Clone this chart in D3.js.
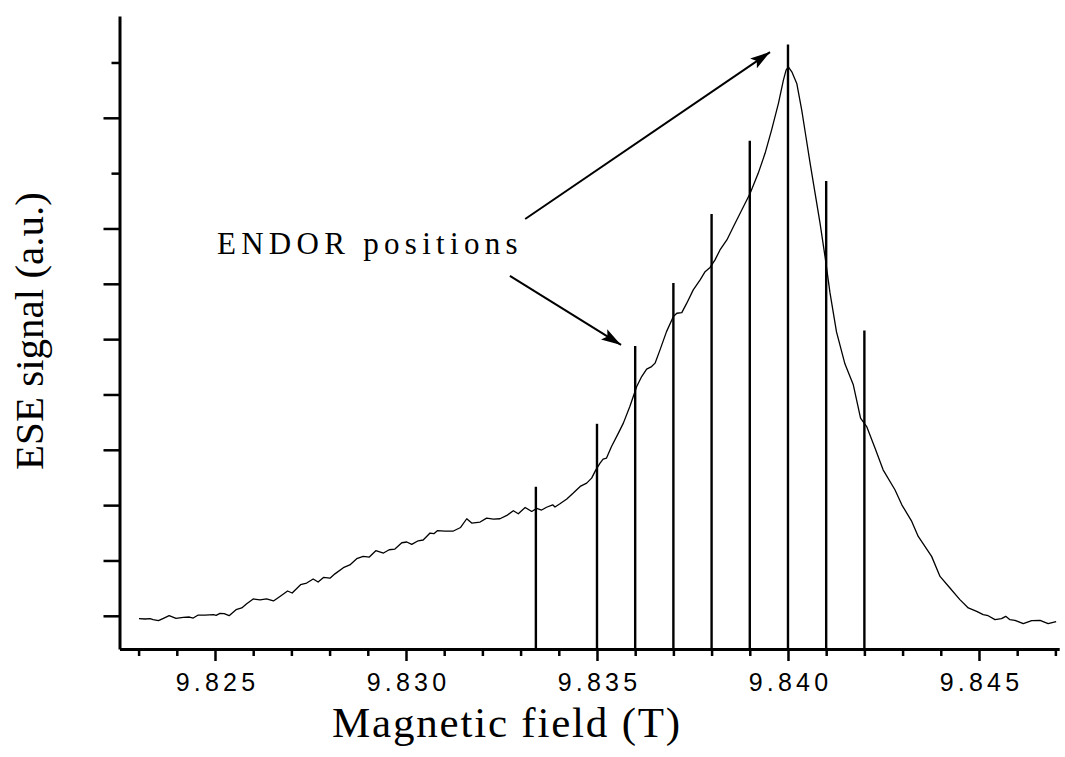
<!DOCTYPE html>
<html>
<head>
<meta charset="utf-8">
<script src="https://cdn.jsdelivr.net/npm/d3@7"></script>
<style>
    body { margin: 0; background: #fff; }
    svg { display: block; }
</style>
</head>
<body>
<svg id="chart" width="1065" height="757"></svg>
<script>
// ESE field sweep (field in T, signal in a.u.)
var fieldT = [
    9.82301, 9.82317, 9.82330, 9.82338, 9.82352, 9.82365, 9.82380, 9.82398, 9.82417, 9.82433,
    9.82443, 9.82456, 9.82474, 9.82496, 9.82503, 9.82513, 9.82524, 9.82537, 9.82555, 9.82570,
    9.82583, 9.82600, 9.82618, 9.82635, 9.82653, 9.82670, 9.82690, 9.82702, 9.82724, 9.82740,
    9.82757, 9.82770, 9.82784, 9.82801, 9.82814, 9.82836, 9.82853, 9.82871, 9.82888, 9.82904,
    9.82921, 9.82941, 9.82956, 9.82971, 9.82989, 9.83002, 9.83015, 9.83032, 9.83045, 9.83063,
    9.83073, 9.83082, 9.83102, 9.83124, 9.83143, 9.83159, 9.83172, 9.83194, 9.83211, 9.83229,
    9.83246, 9.83264, 9.83281, 9.83294, 9.83312, 9.83329, 9.83342, 9.83355, 9.83368, 9.83384,
    9.83390, 9.83403, 9.83421, 9.83438, 9.83456, 9.83473, 9.83486, 9.83497, 9.83508, 9.83516,
    9.83525, 9.83538, 9.83556, 9.83569, 9.83586, 9.83604, 9.83617, 9.83630, 9.83643, 9.83652,
    9.83665, 9.83682, 9.83700, 9.83709, 9.83722, 9.83735, 9.83752, 9.83770, 9.83783, 9.83796,
    9.83809, 9.83822, 9.83840, 9.83857, 9.83879, 9.83901, 9.83922, 9.83940, 9.83957, 9.83975,
    9.83988, 9.83995, 9.84001, 9.84010, 9.84023, 9.84036, 9.84047, 9.84058, 9.84071, 9.84084,
    9.84097, 9.84110, 9.84127, 9.84149, 9.84171, 9.84190, 9.84206, 9.84228, 9.84249, 9.84280,
    9.84298, 9.84324, 9.84341, 9.84376, 9.84398, 9.84424, 9.84450, 9.84472, 9.84494, 9.84511,
    9.84524, 9.84542, 9.84559, 9.84570, 9.84581, 9.84594, 9.84616, 9.84638, 9.84660, 9.84681,
    9.84702
];
var eseSignal = [
    0.474, 0.471, 0.474, 0.465, 0.456, 0.477, 0.501, 0.477, 0.486, 0.489,
    0.480, 0.507, 0.507, 0.510, 0.504, 0.522, 0.519, 0.501, 0.555, 0.571,
    0.609, 0.652, 0.643, 0.652, 0.634, 0.675, 0.724, 0.706, 0.781, 0.796,
    0.833, 0.805, 0.847, 0.840, 0.879, 0.935, 0.960, 1.016, 1.037, 1.031,
    1.088, 1.067, 1.097, 1.103, 1.160, 1.167, 1.145, 1.178, 1.185, 1.248,
    1.242, 1.269, 1.266, 1.266, 1.298, 1.377, 1.338, 1.347, 1.383, 1.374,
    1.377, 1.407, 1.449, 1.422, 1.479, 1.443, 1.470, 1.456, 1.481, 1.503,
    1.483, 1.512, 1.555, 1.609, 1.669, 1.699, 1.744, 1.819, 1.880, 1.916,
    1.925, 2.030, 2.151, 2.241, 2.391, 2.572, 2.662, 2.729, 2.752, 2.783,
    2.903, 3.068, 3.204, 3.234, 3.240, 3.325, 3.445, 3.535, 3.610, 3.648,
    3.716, 3.806, 3.896, 4.016, 4.167, 4.318, 4.498, 4.679, 4.889, 5.131,
    5.341, 5.431, 5.461, 5.416, 5.311, 5.070, 4.829, 4.589, 4.318, 4.047,
    3.745, 3.418, 3.065, 2.777, 2.587, 2.286, 2.210, 2.015, 1.819, 1.639,
    1.503, 1.353, 1.217, 1.037, 0.856, 0.751, 0.646, 0.571, 0.540, 0.510,
    0.501, 0.465, 0.474, 0.495, 0.465, 0.459, 0.429, 0.456, 0.459, 0.429,
    0.447
];

// ENDOR positions (sticks)
var endorField = [9.8334, 9.835, 9.836, 9.837, 9.838, 9.839, 9.840, 9.841, 9.842];
var endorHeight = [1.666, 2.235, 2.939, 3.508, 4.131, 4.793, 5.663, 4.429, 3.077];

// axes
var xMajorTicks = [9.825, 9.830, 9.835, 9.840, 9.845];
var xMinorTicks = [9.823, 9.824, 9.826, 9.827, 9.828, 9.829, 9.831, 9.832, 9.833, 9.834,
                   9.836, 9.837, 9.838, 9.839, 9.841, 9.842, 9.843, 9.844, 9.846, 9.847];
var yLongTicks = [0.5, 1, 1.5, 2, 2.5, 3, 3.5, 4, 5];
var yShortTicks = [4.5, 5.5];

// annotation: label and arrows, in data units
var noteLabel = 'ENDOR positions';
var noteAt = [9.82505, 3.770];
var arrowFrom = [[9.83312, 4.086], [9.83272, 3.571]];
var arrowTo = [[9.83953, 5.594], [9.83563, 2.948]];

var svg = d3.select('#chart');

var x = d3.scaleLinear().domain([9.8225, 9.8471]).range([119.5, 1059.2]);
var y = d3.scaleLinear().domain([0.2, 5.92]).range([649, 16]);

main();

function main()
{
    drawCurve();
    drawSticks();
    drawAxes();
    drawNote();
}

function drawCurve()
{
    var pts = fieldT.map(function(f, i) { return [f, eseSignal[i]]; });
    var line = d3.line()
        .x(function(d) { return x(d[0]); })
        .y(function(d) { return y(d[1]); });

    svg.append('path')
        .attr('d', line(pts))
        .attr('fill', 'none')
        .attr('stroke', '#000')
        .attr('stroke-width', 1.3)
        .attr('stroke-linejoin', 'round');
}

function drawSticks()
{
    svg.selectAll('.stick')
        .data(endorField)
        .enter()
        .append('line')
        .attr('class', 'stick')
        .attr('x1', function(d) { return x(d); })
        .attr('x2', function(d) { return x(d); })
        .attr('y1', y.range()[0])
        .attr('y2', function(d, i) { return y(endorHeight[i]); })
        .attr('stroke', '#000')
        .attr('stroke-width', 2.4);
}

function drawAxes()
{
    var bottom = y.range()[0];
    var left = x.range()[0];

    // x: minor first, then major with labels
    var xMinor = svg.append('g')
        .attr('transform', 'translate(0,' + bottom + ')')
        .call(d3.axisBottom(x).tickValues(xMinorTicks).tickSize(7).tickSizeOuter(0).tickFormat(''));
    xMinor.select('.domain').remove();

    var xMajor = svg.append('g')
        .attr('transform', 'translate(0,' + bottom + ')')
        .call(d3.axisBottom(x).tickValues(xMajorTicks).tickSize(12).tickSizeOuter(0)
              .tickFormat(d3.format('.3f')));

    // y: no labels
    var yShort = svg.append('g')
        .attr('transform', 'translate(' + left + ',0)')
        .call(d3.axisLeft(y).tickValues(yShortTicks).tickSize(8).tickSizeOuter(0).tickFormat(''));
    yShort.select('.domain').remove();

    var yLong = svg.append('g')
        .attr('transform', 'translate(' + left + ',0)')
        .call(d3.axisLeft(y).tickValues(yLongTicks).tickSize(16).tickSizeOuter(0).tickFormat(''));

    svg.selectAll('.domain').attr('stroke', '#000').attr('stroke-width', 3);
    svg.selectAll('.tick line').attr('stroke', '#000').attr('stroke-width', 2.5);

    xMajor.selectAll('.tick text')
        .attr('y', 0)
        .attr('dy', 0)
        .attr('transform', 'translate(2,42)')
        .attr('fill', '#000')
        .style('font-family', '"Liberation Sans", Arial, sans-serif')
        .style('font-size', '25px')
        .style('letter-spacing', '4.2px');

    // axis titles
    svg.append('text')
        .attr('x', 507)
        .attr('y', 737)
        .attr('text-anchor', 'middle')
        .style('font-family', '"Liberation Serif", "Times New Roman", serif')
        .style('font-size', '43px')
        .style('letter-spacing', '1.8px')
        .text('Magnetic field (T)');

    svg.append('text')
        .attr('transform', 'translate(43,' + 331 + ') rotate(-90)')
        .attr('text-anchor', 'middle')
        .style('font-family', '"Liberation Serif", "Times New Roman", serif')
        .style('font-size', '41px')
        .text('ESE signal (a.u.)');
}

function drawNote()
{
    svg.append('text')
        .attr('x', x(noteAt[0]))
        .attr('y', y(noteAt[1]))
        .style('font-family', '"Liberation Serif", "Times New Roman", serif')
        .style('font-size', '31px')
        .style('letter-spacing', '5.3px')
        .text(noteLabel);

    var defs = svg.append('defs');
    defs.append('marker')
        .attr('id', 'head')
        .attr('viewBox', '0 0 20 12')
        .attr('refX', 20)
        .attr('refY', 6)
        .attr('markerWidth', 20)
        .attr('markerHeight', 12)
        .attr('markerUnits', 'userSpaceOnUse')
        .attr('orient', 'auto')
        .append('path')
        .attr('d', 'M0,0 L20,6 L0,12 L4,6 Z')
        .attr('fill', '#000');

    for (var i = 0; i < arrowFrom.length; i++)
    {
        svg.append('line')
            .attr('x1', x(arrowFrom[i][0]))
            .attr('y1', y(arrowFrom[i][1]))
            .attr('x2', x(arrowTo[i][0]))
            .attr('y2', y(arrowTo[i][1]))
            .attr('stroke', '#000')
            .attr('stroke-width', 2)
            .attr('marker-end', 'url(#head)');
    }
}
</script>
</body>
</html>
